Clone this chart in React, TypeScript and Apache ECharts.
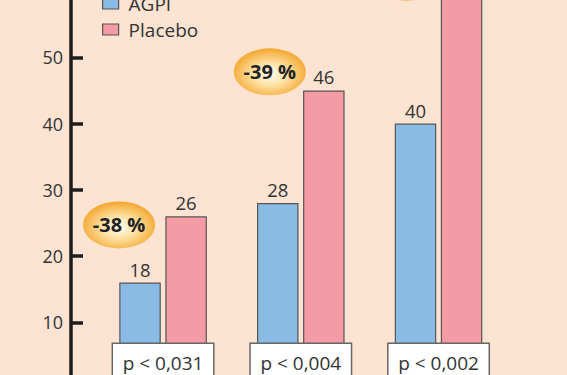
import React, { useEffect, useRef } from "react";
import * as echarts from "echarts";

const categories = ["p < 0,031", "p < 0,004", "p < 0,002"];
const agpiValues = [16, 28, 40];
const placeboValues = [26, 45, 65];
const agpiLabels = ["18", "28", "40"];
const placeboLabels = ["26", "46", "65"];
const reductionLabels = ["-38 %", "-39 %", "-38 %"];
const reductionLevels = [24.7, 47.8, 62.1];
const reductionShift = [-44, -31, -32];
const yTicks = [0, 10, 20, 30, 40, 50, 60, 70];

const FONT = "'Open Sans', 'Noto Sans', sans-serif";
const SHIFT = 100; // chart canvas extends above the visible window
const CANVAS_H = 500;

export default function App() {
  const ref = useRef<HTMLDivElement>(null);
  useEffect(() => {
    if (!ref.current) return;
    const chart = echarts.init(ref.current, undefined, { renderer: "svg" });
    const ellipseColor = new echarts.graphic.RadialGradient(0.5, 0.55, 0.55, [
      { offset: 0, color: "#fffdf2" },
      { offset: 0.45, color: "#fde0a0" },
      { offset: 1, color: "#f4a52c" },
    ]);
    chart.setOption({
      animation: false,
      backgroundColor: "#fde3d2",
      textStyle: { fontFamily: FONT },
      grid: { left: 94.2, right: 59.6, top: SHIFT - 75.2, bottom: CANVAS_H - (SHIFT + 388.55), containLabel: false },
      legend: {
        data: ["AGPI", "Placebo"],
        orient: "vertical",
        left: 102,
        top: SHIFT - 7.5,
        padding: 0,
        itemWidth: 16,
        itemHeight: 11,
        itemGap: 4,
        icon: "rect",
        itemStyle: { borderColor: "#555", borderWidth: 1.2 },
        textStyle: { fontSize: 19, color: "#333", fontFamily: FONT, lineHeight: 22, padding: [0, 0, 0, 5] },
      },
      xAxis: {
        type: "category",
        data: categories,
        z: 10,
        axisLine: { show: false },
        axisTick: { show: false },
        axisLabel: {
          inside: true,
          margin: 6.5,
          fontSize: 19,
          lineHeight: 22,
          color: "#333",
          fontFamily: FONT,
          width: 82,
          align: "center",
          backgroundColor: "#ffffff",
          borderColor: "#666",
          borderWidth: 1.5,
          padding: [8, 9, 8, 9],
        },
      },
      yAxis: {
        type: "value",
        min: yTicks[0],
        max: yTicks[yTicks.length - 1],
        interval: 10,
        offset: 23.2,
        splitLine: { show: false },
        axisLine: { show: true, lineStyle: { color: "#1c1c1c", width: 3.5 } },
        axisTick: { show: true, inside: true, length: 12, lineStyle: { color: "#1c1c1c", width: 3.5 } },
        axisLabel: { fontSize: 18, color: "#333", margin: 8, fontFamily: FONT, showMinLabel: false },
      },
      series: [
        {
          name: "AGPI",
          type: "bar",
          data: agpiValues,
          barWidth: 41.5,
          barGap: "11%",
          itemStyle: { color: "#89bbe5", borderColor: "#555", borderWidth: 1.2 },
          label: {
            show: true,
            position: "top",
            distance: 4,
            fontSize: 18.5,
            color: "#333",
            fontFamily: FONT,
            formatter: (p: any) => agpiLabels[p.dataIndex],
          },
        },
        {
          name: "Placebo",
          type: "bar",
          data: placeboValues,
          barWidth: 41.5,
          barGap: "11%",
          itemStyle: { color: "#f59ba6", borderColor: "#555", borderWidth: 1.2 },
          label: {
            show: true,
            position: "top",
            distance: 4,
            fontSize: 18.5,
            color: "#333",
            fontFamily: FONT,
            formatter: (p: any) => placeboLabels[p.dataIndex],
          },
        },
        {
          type: "scatter",
          z: 5,
          symbol: "circle",
          symbolSize: [72, 47],
          data: reductionLevels.map((v, i) => ({
            value: [i, v],
            symbolOffset: [reductionShift[i], 0],
          })),
          itemStyle: { color: ellipseColor, opacity: 1 },
          label: {
            show: true,
            position: "inside",
            fontSize: 20,
            fontWeight: "bold",
            color: "#222",
            fontFamily: FONT,
            formatter: (p: any) => reductionLabels[p.dataIndex],
          },
          emphasis: { disabled: true },
        },
      ],
    });
    return () => chart.dispose();
  }, []);
  return (
    <div style={{ position: "fixed", left: 0, top: 0, width: 567, height: 375, overflow: "hidden", background: "#fde3d2" }}>
      <div
        ref={ref}
        style={{ position: "absolute", left: 0, top: -SHIFT, width: 567, height: CANVAS_H }}
      />
    </div>
  );
}
